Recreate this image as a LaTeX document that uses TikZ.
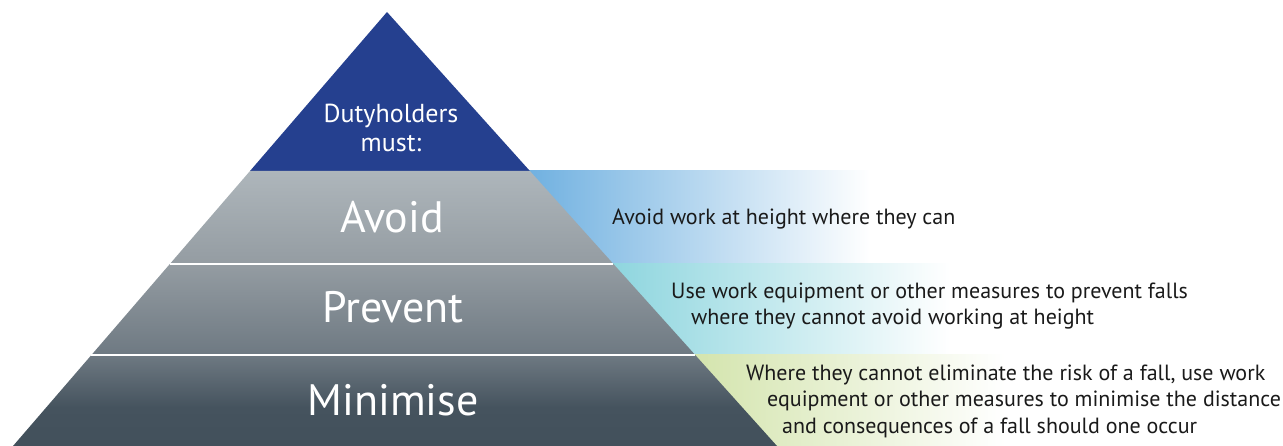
\documentclass[tikz,border=0pt]{standalone}
\usepackage{fontspec}
\setmainfont{PT Sans}
\usetikzlibrary{positioning}

\definecolor{dutyblue}{HTML}{25408F}
\definecolor{greyA}{HTML}{AEB6BB}
\definecolor{greyB}{HTML}{949CA2}
\definecolor{greyC}{HTML}{6E7982}
\definecolor{greyD}{HTML}{45535E}
\definecolor{greyE}{HTML}{42505B}
\definecolor{avoidblue}{HTML}{6FB0E0}
\definecolor{preventcyan}{HTML}{8DD5DE}
\definecolor{minigreen}{HTML}{D3E4AC}
\definecolor{notetext}{HTML}{1A1A1A}

\pgfdeclareverticalshading{pyrgrey}{100bp}{color(0bp)=(greyE); color(25bp)=(greyE); color(32bp)=(greyD); color(41.5bp)=(greyC); color(58bp)=(greyB); color(75bp)=(greyA); color(100bp)=(greyA)}

\begin{document}
\begin{tikzpicture}[
    x=1pt, y=-1pt,
    lvl/.style={text=white, font=\fontsize{44}{50}\selectfont, anchor=base},
    note/.style={text=notetext, font=\fontsize{22}{26.5}\selectfont, align=left, anchor=base west, inner sep=0pt}
]

\useasboundingbox (0,0) rectangle (1283,446);

% coloured bands behind the pyramid
\shade[left color=avoidblue, right color=white] (526,171) rectangle (870,264);
\shade[left color=preventcyan, right color=white] (609,264) rectangle (950,355);
\shade[left color=minigreen, right color=white] (690,355) rectangle (1005,446);

% pyramid
\coordinate (apex) at (387,12);
\coordinate (baseL) at (13,446);
\coordinate (baseR) at (777,446);
\fill[dutyblue] (apex) -- (529.9,171) -- (250,171) -- cycle;
\shade[shading=pyrgrey] (250,171) -- (529.9,171) -- (baseR) -- (baseL) -- cycle;

% level dividers
\draw[white, line width=1.5pt] (169.8,264) -- (613.4,264);
\draw[white, line width=1.5pt] (91.4,355) -- (695.2,355);

% labels (base = last line)
\node[text=white, align=center, anchor=base, inner sep=0pt,
      font=\fontsize{26}{29}\selectfont] (duty) at (391,152) {Dutyholders\\must:};
\node[lvl] (avoid) at (392,233) {Avoid};
\node[lvl] (prevent) at (393,323) {Prevent};
\node[lvl] (minimise) at (393,415) {Minimise};

% notes
\node[note] (avoidnote) at (612,225) {Avoid work at height where they can};
\node[note] (preventnote) at (671,325) {Use work equipment or other measures to prevent falls\\
  \hspace*{20pt}where they cannot avoid working at height};
\node[note] (mininote) at (746,433) {Where they cannot eliminate the risk of a fall, use work\\
  \hspace*{21pt}equipment or other measures to minimise the distance\\
  \hspace*{36pt}and consequences of a fall should one occur};

\end{tikzpicture}
\end{document}
